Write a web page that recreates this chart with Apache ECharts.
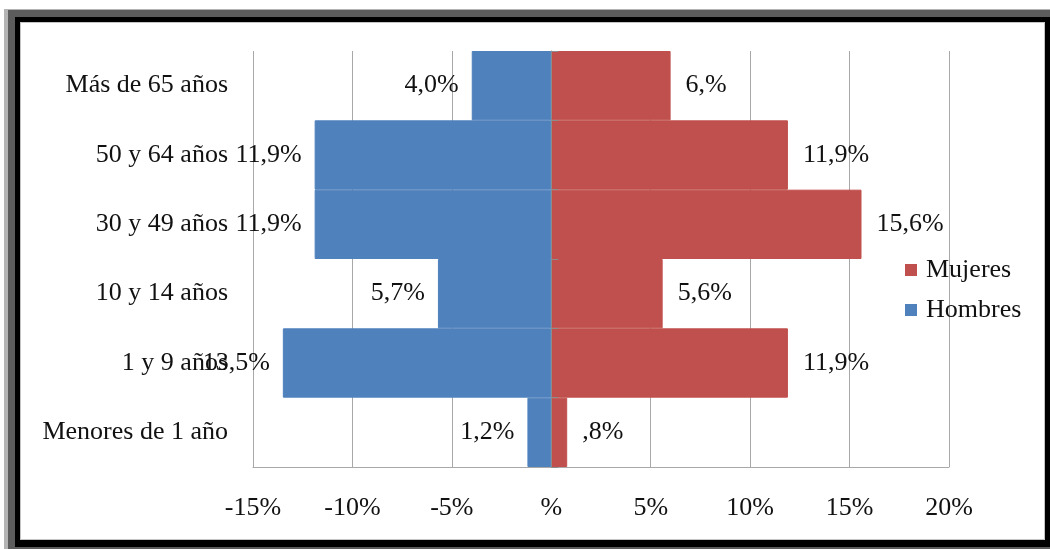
<!DOCTYPE html>
<html>
<head>
<meta charset="utf-8">
<script src="https://cdn.jsdelivr.net/npm/echarts@6/dist/echarts.min.js"></script>
<style>
    html, body { margin: 0; padding: 0; background: #fff; }
    .marco {
        position: absolute; left: 4px; top: 9px; width: 1046px; height: 540px;
        box-sizing: border-box; background: #5c5c5c;
        border-left: 4px solid #b4b4b4; border-top: 1px solid #b4b4b4;
    }
    .negro { position: absolute; left: 15px; top: 17px; width: 1035px; height: 530px; background: #000; }
    .blanco {
        position: absolute; left: 20px; top: 22px; width: 1025px; height: 518px;
        box-sizing: border-box; background: #fff; border: 1px solid #c4c4c4;
    }
    #main { position: absolute; left: 0; top: 0; width: 1050px; height: 549px; }
</style>
</head>
<body>
<div class="marco"></div>
<div class="negro"></div>
<div class="blanco"></div>
<div id="main"></div>

<script type="text/javascript">
    // datos (de abajo hacia arriba)
    var categorias = ['Menores de 1 año', '1 y 9 años', '10 y 14 años', '30 y 49 años', '50 y 64 años', 'Más de 65 años'];
    var hombres = [1.2, 13.5, 5.7, 11.9, 11.9, 4.0];
    var mujeres = [0.8, 11.9, 5.6, 15.6, 11.9, 6.0];
    var etiquetasHombres = ['1,2%', '13,5%', '5,7%', '11,9%', '11,9%', '4,0%'];
    var etiquetasMujeres = [',8%', '11,9%', '5,6%', '15,6%', '11,9%', '6,%'];
    var ticksX = [-15, -10, -5, 0, 5, 10, 15, 20];

    var fuente = '"Liberation Serif", "DejaVu Serif", serif';
    var tam = 26;
    var myChart = echarts.init(document.getElementById('main'));

    option = {
        animation: false,
        textStyle: { fontFamily: fuente },
        grid: { left: 253, right: 101, top: 51, bottom: 82 },
        legend: {
            data: ['Mujeres', 'Hombres'],
            orient: 'vertical',
            left: 900,
            top: 252,
            itemWidth: 10,
            itemHeight: 10,
            itemGap: 14,
            icon: 'rect',
            textStyle: { fontFamily: fuente, fontSize: tam, color: '#111', padding: [0, 0, 0, 5] }
        },
        xAxis: {
            type: 'value',
            min: ticksX[0],
            max: ticksX[ticksX.length - 1],
            interval: 5,
            axisLine: { show: true, lineStyle: { color: '#a8a8a8' } },
            axisTick: { show: false },
            axisLabel: {
                margin: 28,
                fontFamily: fuente,
                fontSize: tam,
                color: '#111',
                formatter: function (v) { return v === 0 ? '%' : v + '%'; }
            },
            splitLine: { show: true, lineStyle: { color: '#a8a8a8' } }
        },
        yAxis: [{
            type: 'category',
            data: categorias,
            axisLine: { show: false, onZero: false },
            axisTick: { show: false },
            axisLabel: { margin: 25, fontFamily: fuente, fontSize: tam, color: '#111' }
        }, {
            type: 'category',
            data: categorias,
            z: 5,
            axisLine: { show: true, onZero: true, lineStyle: { color: '#8c8c8c' } },
            axisTick: { show: true, inside: false, length: 7, lineStyle: { color: '#8c8c8c' } },
            axisLabel: { show: false },
            splitLine: { show: false }
        }],
        series: [{
            name: 'Hombres',
            type: 'bar',
            stack: 'total',
            barCategoryGap: '0%',
            itemStyle: { color: '#4F81BD', borderColor: '#4F81BD', borderWidth: 1 },
            data: hombres.map(function (v) { return -v; }),
            label: {
                show: true,
                position: 'left',
                distance: 13,
                fontFamily: fuente,
                fontSize: tam,
                color: '#111',
                formatter: function (p) { return etiquetasHombres[p.dataIndex]; }
            },
            z: 1
        }, {
            name: 'Mujeres',
            type: 'bar',
            stack: 'total',
            barCategoryGap: '0%',
            itemStyle: { color: '#C0504D', borderColor: '#C0504D', borderWidth: 1 },
            data: mujeres,
            label: {
                show: true,
                position: 'right',
                distance: 15,
                fontFamily: fuente,
                fontSize: tam,
                color: '#111',
                formatter: function (p) { return etiquetasMujeres[p.dataIndex]; }
            },
            z: 1
        }]
    };

    myChart.setOption(option);
</script>
</body>
</html>
